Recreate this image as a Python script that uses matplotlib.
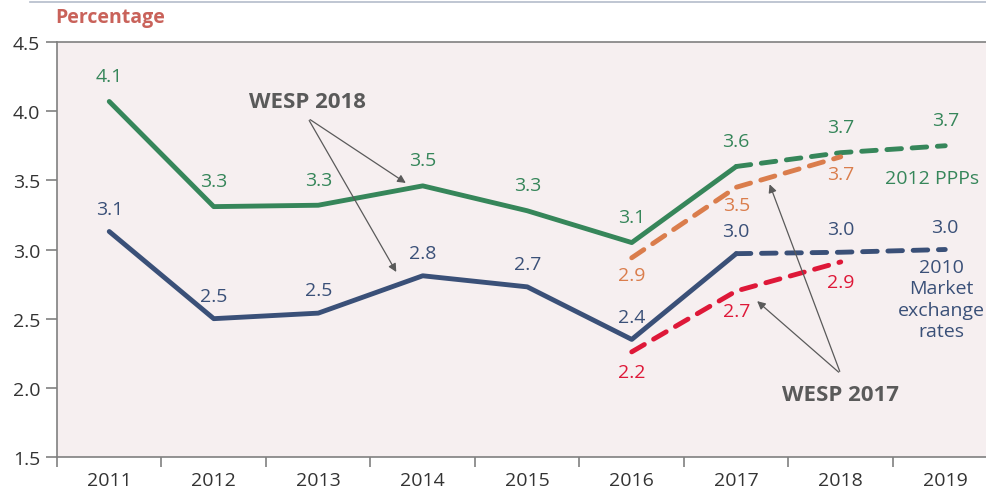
import numpy as np
import matplotlib.pyplot as plt
from matplotlib.lines import Line2D

plt.rcParams['font.family'] = ['Open Sans', 'DejaVu Sans']

# data
years = ['2011', '2012', '2013', '2014', '2015', '2016', '2017', '2018', '2019']
ppp_2018 = [4.07, 3.31, 3.32, 3.46, 3.28, 3.05, 3.60, 3.70, 3.75]
mer_2018 = [3.13, 2.50, 2.54, 2.81, 2.73, 2.35, 2.97, 2.98, 3.00]
ppp_2017 = [2.94, 3.45, 3.67]   # 2016-2018
mer_2017 = [2.26, 2.70, 2.91]   # 2016-2018
ppp_2018_lbl = ['4.1', '3.3', '3.3', '3.5', '3.3', '3.1', '3.6', '3.7', '3.7']
mer_2018_lbl = ['3.1', '2.5', '2.5', '2.8', '2.7', '2.4', '3.0', '3.0', '3.0']
ppp_2017_lbl = ['2.9', '3.5', '3.7']
mer_2017_lbl = ['2.2', '2.7', '2.9']

green = '#36865a'
blue = '#3a5078'
orange = '#da7d4c'
red = '#de1838'
grey = '#5a5a5a'

fig = plt.figure(figsize=(9.86, 4.89), dpi=100)
ax = fig.add_axes([57/986, 31/489, 1 - 57/986, 415/489])
ax.set_facecolor('#f6eff0')

x = np.arange(len(years))
x17 = x[5:8]
n_act = 7  # actual values up to 2017

ax.plot(x[:n_act], ppp_2018[:n_act], color=green, lw=3.5, solid_capstyle='round')
ax.plot(x[n_act-1:], ppp_2018[n_act-1:], color=green, lw=3.5, ls=(0, (3, 2.2)), dash_capstyle='round')
ax.plot(x[:n_act], mer_2018[:n_act], color=blue, lw=3.5, solid_capstyle='round')
ax.plot(x[n_act-1:], mer_2018[n_act-1:], color=blue, lw=3.5, ls=(0, (3, 2.2)), dash_capstyle='round')
ax.plot(x17, ppp_2017, color=orange, lw=3.5, ls=(0, (3, 2.2)), dash_capstyle='round')
ax.plot(x17, mer_2017, color=red, lw=3.5, ls=(0, (3, 2.2)), dash_capstyle='round')

fs = 14
for i, (v, t) in enumerate(zip(ppp_2018, ppp_2018_lbl)):
    ax.annotate(t, (x[i], v), xytext=(0, 12), textcoords='offset points',
                ha='center', va='bottom', color=green, fontsize=fs)
for i, (v, t) in enumerate(zip(mer_2018, mer_2018_lbl)):
    ax.annotate(t, (x[i], v), xytext=(0, 10), textcoords='offset points',
                ha='center', va='bottom', color=blue, fontsize=fs)
for i, (v, t) in enumerate(zip(ppp_2017, ppp_2017_lbl)):
    ax.annotate(t, (x17[i], v), xytext=(0, -6), textcoords='offset points',
                ha='center', va='top', color=orange, fontsize=fs)
for i, (v, t) in enumerate(zip(mer_2017, mer_2017_lbl)):
    ax.annotate(t, (x17[i], v), xytext=(0, -8), textcoords='offset points',
                ha='center', va='top', color=red, fontsize=fs)

ax.text(7.87, 3.52, '2012 PPPs', color=green, fontsize=fs, ha='center', va='center')
ax.text(7.96, 2.94, '2010\nMarket\nexchange\nrates', color=blue, fontsize=fs,
        ha='center', va='top', linespacing=1.25)

# annotations
ax.text(1.9, 4.07, 'WESP 2018', color=grey, fontsize=16, fontweight='bold',
        ha='center', va='center')
for tgt in [(2.86, 3.47), (2.76, 2.82)]:
    ax.annotate('', xy=tgt, xytext=(1.9, 3.95),
                arrowprops=dict(arrowstyle='-|>', color=grey, lw=0.9, mutation_scale=12))
ax.text(7.0, 1.95, 'WESP 2017', color=grey, fontsize=16, fontweight='bold',
        ha='center', va='center')
for tgt in [(6.31, 3.49), (6.18, 2.64)]:
    ax.annotate('', xy=tgt, xytext=(7.0, 2.1),
                arrowprops=dict(arrowstyle='-|>', color=grey, lw=0.9, mutation_scale=12))

ax.set_xlim(-0.5, 8.39)
ax.set_ylim(1.5, 4.5)
ax.set_yticks([1.5, 2.0, 2.5, 3.0, 3.5, 4.0, 4.5])
ax.set_yticklabels(['1.5', '2.0', '2.5', '3.0', '3.5', '4.0', '4.5'])
ax.set_xticks(x)
ax.set_xticklabels(years)
ax.set_xticks(np.arange(-0.5, 8.5, 1), minor=True)
ax.tick_params(axis='x', which='major', length=0, labelsize=fs, colors='#333333', pad=10)
ax.tick_params(axis='x', which='minor', length=7, color='#808080', width=1.2)
ax.tick_params(axis='y', length=8, color='#808080', width=1.2, labelsize=fs,
               colors='#333333', pad=4)
for s in ['left', 'bottom', 'top']:
    ax.spines[s].set_color('#808080')
    ax.spines[s].set_linewidth(1.2)
ax.spines['right'].set_visible(False)

fig.text(55/986, 1 - 18/489, 'Percentage', color='#c9625a', fontsize=14,
         fontweight='bold', ha='left', va='center')
fig.add_artist(Line2D([30/986, 1], [1 - 3/489, 1 - 3/489], color='#b4bccb', lw=1.2))

fig.savefig('out.png', dpi=100)
